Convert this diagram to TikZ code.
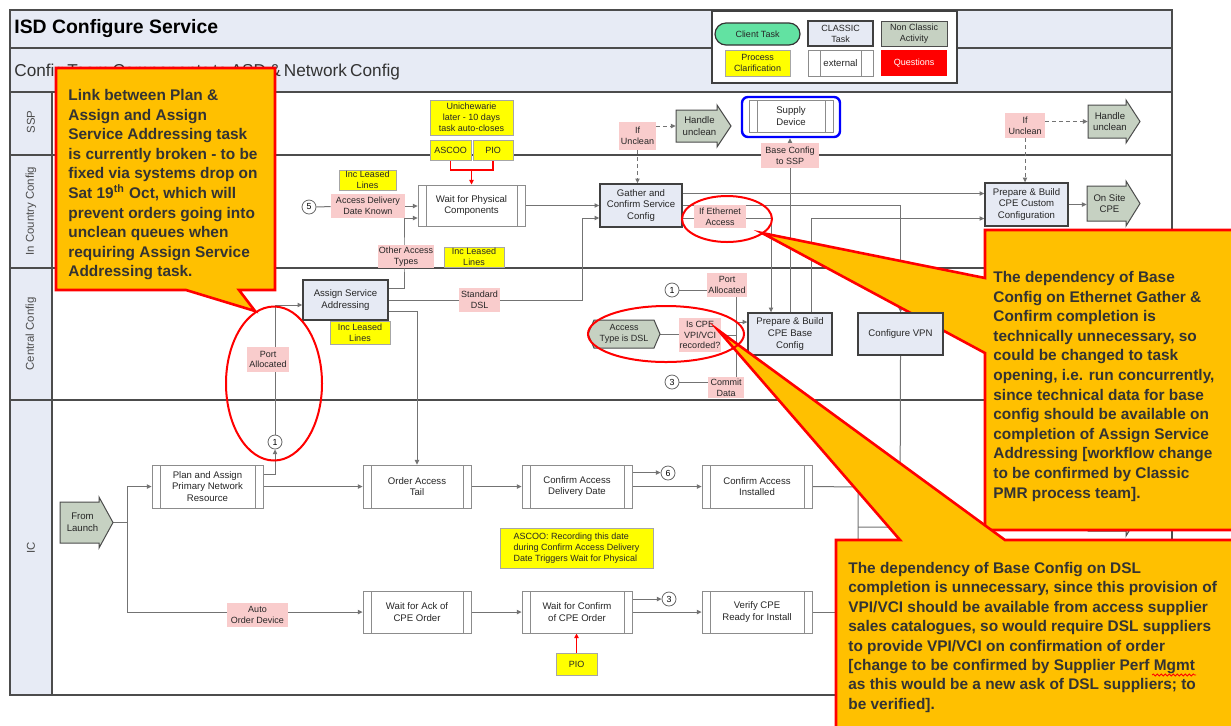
\documentclass[tikz,border=0pt]{standalone}
\usepackage{fontspec}
\setmainfont{Liberation Sans}
\usetikzlibrary{arrows.meta,decorations.pathmorphing,calc}
\pgfdeclarelayer{back}\pgfdeclarelayer{bg}\pgfdeclarelayer{top}
\pgfsetlayers{back,bg,main,top}
\definecolor{hdr}{HTML}{E7EBF5}
\definecolor{clsf}{HTML}{E6EAF4}
\definecolor{pinkc}{HTML}{F9CCCC}
\definecolor{yel}{HTML}{FFFF00}
\definecolor{ngr}{HTML}{C6D1C2}
\definecolor{cgr}{HTML}{62E2A2}
\definecolor{gold}{HTML}{FFC000}
\newcommand\bx[7]{\node[#1, minimum width={(#5-#3)*0.5pt}, minimum height={(#6-#4)*0.5pt}] (#2) at ({(#3+#5)/2},{(#4+#6)/2}) {#7};}
\newcommand\blockarr[6]{%
 \draw[blk] (#2,{#3+5}) -- ({#4-14},{#3+5}) -- ({#4-14},#3) -- (#4,{(#3+#5)/2}) -- ({#4-14},#5) -- ({#4-14},{#5-5}) -- (#2,{#5-5}) -- cycle;
 \node[inner sep=0, minimum width={(#4-#2)*0.5pt}, minimum height={(#5-#3)*0.5pt}] (#1) at ({(#2+#4)/2},{(#3+#5)/2}) {};
 \node[base] at ({(#2+#4)/2-4},{(#3+#5)/2}) {#6};}
\tikzset{
 base/.style={inner sep=0.3pt, align=center, text=black!85, font=\fontsize{4.8}{5.9}\selectfont},
 small/.style={font=\fontsize{4.5}{5.4}\selectfont},
 ext/.style={base, draw=black!45, line width=0.4pt, fill=white,
   path picture={\draw[black!45, line width=0.4pt]
     ([xshift=#1]path picture bounding box.north west) -- ([xshift=#1]path picture bounding box.south west)
     ([xshift=-#1]path picture bounding box.north east) -- ([xshift=-#1]path picture bounding box.south east);}},
 ext/.default=4pt,
 classic/.style={base, draw=black!75, line width=0.7pt, fill=clsf},
 classicS/.style={classic, small},
 pinkl/.style={base, small, fill=pinkc},
 yell/.style={base, small, fill=yel, draw=black!35, line width=0.3pt},
 yellL/.style={yell, align=left},
 nonc/.style={base, small, fill=ngr, draw=black!70, line width=0.5pt},
 ques/.style={base, small, fill=red, text=white},
 client/.style={base, small, fill=cgr, draw=black!80, line width=0.6pt, rounded corners=5.5pt},
 bluebox/.style={draw=blue, line width=1.2pt, rounded corners=3pt, fill=white},
 legframe/.style={draw=black!75, line width=0.8pt, fill=white},
 conn/.style={draw=black!55, line width=0.5pt},
 tip/.style={-{Triangle[length=2.4pt,width=2.2pt]}},
 dsh/.style={conn, dash pattern=on 2pt off 1.5pt},
 redln/.style={draw=red, line width=0.6pt},
 ofc/.style={circle, draw=black!60, fill=white, line width=0.4pt, minimum size=7pt, inner sep=0, font=\fontsize{4.4}{4.4}\selectfont},
 blk/.style={fill=ngr, draw=black!70, line width=0.5pt},
 frm/.style={draw=black!70, line width=0.8pt},
 callout/.style={fill=gold, draw=red, line width=1.3pt, line join=miter},
 ctext/.style={anchor=north west, align=left, inner sep=0, font=\fontsize{7.7}{9.8}\selectfont\bfseries, text=black!80},
 redell/.style={draw=red, line width=1pt},
 lane/.style={rotate=90, font=\fontsize{5.7}{5.7}\selectfont, text=black!70},
}
\begin{document}
\begin{tikzpicture}[x=0.5pt,y=-0.5pt]
\useasboundingbox (0,0) rectangle (1231,725);
\begin{pgfonlayer}{back}
\fill[white] (0,0) rectangle (1231,725);
\draw[frm, fill=hdr] (10,10) rectangle (1172,92);
\draw[frm] (10,48) -- (1172,48);
\draw[frm, fill=hdr] (10,92) rectangle (52,695);
\draw[frm] (10,92) rectangle (1172,695);
\foreach \yy in {155,268,400} \draw[frm] (10,\yy) -- (1172,\yy);
\end{pgfonlayer}

% titles
\node[anchor=west, inner sep=0, font=\fontsize{9.7}{10}\selectfont\bfseries] (title) at (14,29) {ISD Configure Service};
\node[anchor=west, inner sep=0, text=black!80, font=\fontsize{8.6}{9}\selectfont] (subtitle) at (14,72) {\makebox[190pt][s]{Config Team Components to ASD \& Network Config}};
\node[lane] (lssp) at (31,122) {SSP};
\node[lane] (lic1) at (31,211) {In Country Config};
\node[lane] (lcc) at (31,334) {Central Config};
\node[lane] (lic2) at (31,548) {IC};

% legend
\bx{legframe}{legend}{712}{11}{957}{83}{}
\bx{client}{lg1}{715}{23}{800}{45}{Client Task}
\bx{classicS}{lg2}{808}{21}{873}{46}{CLASSIC\\Task}
\bx{nonc}{lg3}{881}{21}{947}{46}{Non Classic\\Activity}
\bx{yell}{lg4}{725}{50}{790}{76}{Process\\Clarification}
\bx{ext=6pt}{lg5}{808}{50}{873}{76}{external}
\bx{ques}{lg6}{881}{50}{947}{76}{Questions}

% SSP lane
\bx{yell}{unote}{430}{100}{513}{135}{Unichewarie\\later - 10 days\\task auto-closes}
\bx{yell}{ascoo}{430}{140}{471}{160}{ASCOO}
\bx{yell}{pio}{473}{140}{513}{160}{PIO}
\coordinate (rj) at (471.5,170);
\bx{pinkl}{ifu1}{619}{122}{656}{150}{If\\Unclean}
\blockarr{hu1}{676}{105}{731}{147}{Handle\\unclean}
\bx{bluebox}{sdevb}{742}{97}{840}{137}{}
\bx{ext}{sdev}{749}{100}{833}{132}{Supply\\Device}
\bx{pinkl}{bcssp}{761}{143}{819}{168}{Base Config\\to SSP}
\bx{pinkl}{ifu2}{1005}{113}{1045}{138}{If\\Unclean}
\blockarr{hu2}{1088}{100}{1140}{143}{Handle\\unclean}

% In Country Config lane
\node[ofc] (c5) at (309,207) {5};
\bx{pinkl}{adk}{331}{194}{405}{218}{Access Delivery\\Date Known}
\bx{yell}{ill1}{339}{170}{396}{190}{Inc Leased\\Lines}
\bx{ext}{wait}{418}{185}{525}{226}{Wait for Physical\\Components}
\bx{pinkl}{oat}{381}{245}{431}{268}{Other Access\\Types}
\coordinate (oatj) at (404,256);
\bx{yell}{ill2}{444}{247}{504}{267}{Inc Leased\\Lines}
\bx{classic}{gather}{600}{184}{682}{227}{Gather and\\Confirm Service\\Config}
\bx{pinkl}{ifea}{694}{205}{746}{228}{If Ethernet\\Access}
\bx{classic}{custom}{985}{183}{1068}{226}{Prepare \& Build\\CPE Custom\\Configuration}
\blockarr{onsite}{1087}{181}{1140}{226}{On Site\\CPE}

% Central Config lane
\bx{classic}{asa}{303}{280}{388}{320}{Assign Service\\Addressing}
\bx{yell}{ill3}{330}{321}{390}{344}{Inc Leased\\Lines}
\bx{pinkl}{sdsl}{459}{288}{500}{312}{Standard\\DSL}
\coordinate (dslj) at (582,300);
\bx{pinkl}{pa1}{247}{347}{289}{372}{Port\\Allocated}
\node[ofc] (c1a) at (275,442) {1};
\node[ofc] (c1b) at (672,290) {1};
\bx{pinkl}{pa2}{707}{273}{747}{297}{Port\\Allocated}
\draw[blk] (594,320) -- (654,320) -- (660,334) -- (654,348) -- (594,348) -- (588,334) -- cycle;
\node[inner sep=0, minimum width=36pt, minimum height=14pt] (acc) at (624,334) {};
\node[base, small] at (624,334) {Access\\Type is DSL};
\bx{pinkl}{iscpe}{682}{318}{718}{352}{Is CPE\\VPI/VCI\\recorded?}
\node[ofc] (c3) at (672,382) {3};
\bx{pinkl}{commit}{708}{377}{744}{398}{Commit\\Data}
\coordinate (pj) at (736,290);
\coordinate (cj) at (736,382);
\coordinate (bj) at (736,322);
\bx{classic}{basecfg}{748}{313}{832}{355}{Prepare \& Build\\CPE Base\\Config}

% IC lane
\blockarr{launch}{60}{497}{113}{548}{From\\Launch}
\coordinate (lj) at (127,522.5);
\bx{ext}{plan}{152}{465}{263}{508}{Plan and Assign\\Primary Network\\Resource}
\bx{ext}{order}{363}{465}{471}{508}{Order Access\\Tail}
\bx{ext}{cadd}{522}{465}{632}{508}{Confirm Access\\Delivery Date}
\node[ofc] (c6) at (668,473) {6};
\bx{ext}{cai}{702}{465}{812}{508}{Confirm Access\\Installed}
\bx{yellL}{anote}{500}{528}{653}{568}{ASCOO: Recording this date\\during Confirm Access Delivery\\Date Triggers Wait for Physical}
\bx{pinkl}{aod}{227}{603}{288}{627}{Auto\\Order Device}
\bx{ext}{wack}{363}{591}{471}{633}{Wait for Ack of\\CPE Order}
\bx{ext}{wconf}{522}{591}{632}{633}{Wait for Confirm\\of CPE Order}
\node[ofc] (c3b) at (669,599) {3};
\bx{ext}{verify}{702}{591}{812}{633}{Verify CPE\\Ready for Install}
\bx{yell}{pio2}{556}{653}{597}{675}{PIO}
\coordinate (caij) at (858,487);
\coordinate (vpnj) at (900,527);
\coordinate (vj) at (840,612);
\blockarr{hidarr}{1088}{490}{1140}{536}{}

\begin{pgfonlayer}{top}
\draw[callout] (56,68) -- (275,68) -- (275,290) -- (239,290) -- (255,311) -- (186,290) -- (56,290) -- cycle;
\node[ctext] (t1) at (68,89) {Link between Plan \&\\Assign and Assign\\Service Addressing task\\is currently broken - to be\\fixed via systems drop on\\Sat 19\textsuperscript{th} Oct, which will\\prevent orders going into\\unclean queues when\\requiring Assign Service\\Addressing task.};
\draw[callout] (985,230) -- (1245,230) -- (1245,530) -- (985,530) -- (985,353) -- (762,233) -- (985,278) -- cycle;
\node[ctext] (t2) at (993,271) {The dependency of Base\\Config on Ethernet Gather \&\\Confirm completion is\\technically unnecessary, so\\could be changed to task\\opening, i.e. run concurrently,\\since technical data for base\\config should be available on\\completion of Assign Service\\Addressing [workflow change\\to be confirmed by Classic\\PMR process team].};
\bx{classic}{vpn}{858}{313}{943}{355}{Configure VPN}
\draw[callout] (836,540) -- (900,540) -- (718,330) -- (1005,540) -- (1245,540) -- (1245,740) -- (836,740) -- cycle;
\node[ctext, font=\fontsize{7.7}{9.7}\selectfont\bfseries] (t3) at (848,562) {The dependency of Base Config on DSL\\completion is unnecessary, since this provision of\\VPI/VCI should be available from access supplier\\sales catalogues, so would require DSL suppliers\\to provide VPI/VCI on confirmation of order\\{}[change to be confirmed by Supplier Perf Mgmt\\as this would be a new ask of DSL suppliers; to\\be verified].};
\draw[red, line width=0.4pt, decorate, decoration={snake, segment length=2pt, amplitude=0.5pt}] (1152,675) -- (1196,675);
\draw[redell] (274,383.5) ellipse [x radius=48, y radius=77];
\draw[redell] (727,219) ellipse [x radius=45, y radius=23];
\draw[redell] (666,334) ellipse [x radius=78, y radius=28];
\end{pgfonlayer}

\begin{pgfonlayer}{bg}
\draw[redln] (ascoo.south) |- (rj);
\draw[redln] (pio.south) |- (rj);
\draw[redln,tip] (rj) -- (rj |- wait.north);
\draw[dsh,tip] (ifu1.north east |- hu1.west) -- (hu1.west);
\draw[dsh,tip] (ifu1.south) -- (ifu1.south |- gather.north);
\draw[dsh,tip] (ifu2.east |- hu2.west) -- (hu2.west);
\draw[dsh,tip] (ifu2.south) -- (ifu2.south |- custom.north);
\draw[conn,tip] (bcssp.north) -- (bcssp.north |- sdevb.south);
\draw[conn] (basecfg.north) -- (basecfg.north |- bcssp.south);
\draw[conn] (c5) -- (adk);
\draw[conn,tip] (adk.east) -- (adk.east -| wait.west);
\draw[conn,tip] ([yshift=-4.5pt]asa.north east) -| (oatj) |- ([yshift=-6.25pt]wait.west);
\draw[conn,tip] (wait.east) -- (gather.west);
\draw[conn,tip] (asa.east) -- (dslj) |- ([yshift=-6.25pt]gather.west);
\draw[conn,tip] ([yshift=6pt]gather.east) -- ([yshift=6pt]gather.east -| custom.west);
\draw[conn,tip] (gather.east) -| (vpn.north);
\draw[conn,tip] ([yshift=-6.25pt]gather.east) -| ([xshift=-9.5pt]basecfg.north);
\draw[conn,tip] ([xshift=10.5pt]basecfg.north) |- ([yshift=-7pt]custom.west);
\draw[conn,tip] (custom.east) -- (custom.east -| onsite.west);
\draw[conn,tip] ([yshift=-5.5pt]asa.east) -| (order.north);
\draw[conn,tip] ([yshift=6.25pt]plan.east) -| (c1a.south);
\draw[conn,tip] (c1a.north) |- ([yshift=-2.5pt]asa.west);
\draw[conn] (c1b.east) -- (pj) -- (cj) -- (c3.east);
\draw[conn,tip] (bj) -- (bj -| basecfg.west);
\draw[conn] (acc.east) -- (acc.east -| iscpe.west);
\draw[conn] (iscpe.east) -- (iscpe.east -| pj);
\draw[conn] (launch.east) -- (lj);
\draw[conn,tip] (lj) |- (plan.west);
\draw[conn,tip] (lj) |- (wack.west);
\draw[conn,tip] (plan.east) -- (order.west);
\draw[conn,tip] (order.east) -- (cadd.west);
\draw[conn,tip] ([yshift=7pt]cadd.east) -- ([yshift=7pt]cadd.east -| c6.west);
\draw[conn,tip] (cadd.east) -- (cai.west);
\draw[conn] (cai.east) -- (caij) -- ++(0,60);
\draw[conn] (vpn.south) -- (vpnj) -- (vpnj -| caij);
\draw[conn,tip] (wack.east) -- (wconf.west);
\draw[conn,tip] ([yshift=6.5pt]wconf.east) -- ([yshift=6.5pt]wconf.east -| c3b.west);
\draw[conn,tip] (wconf.east) -- (verify.west);
\draw[conn] (verify.east) -- (vj);
\draw[redln,tip] (pio2.north) -- (pio2.north |- wconf.south);
\end{pgfonlayer}
\end{tikzpicture}
\end{document}
